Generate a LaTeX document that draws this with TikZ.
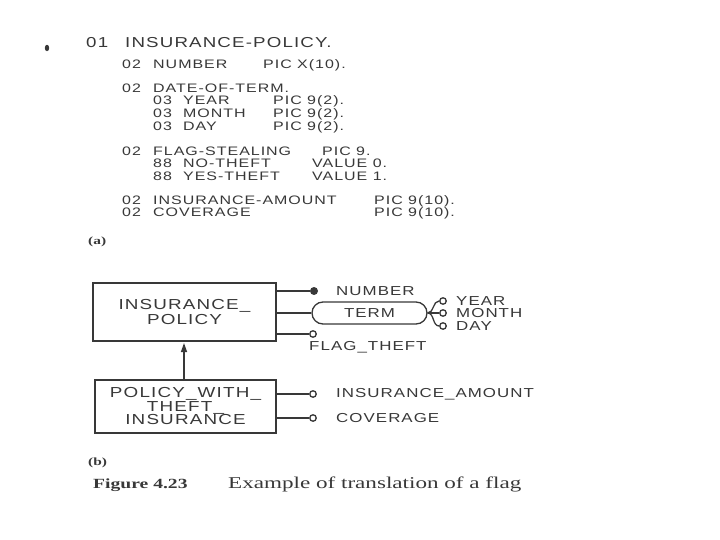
\documentclass[tikz,border=0pt]{standalone}
\usepackage{fontspec}
\setmainfont{Liberation Serif}
\newfontfamily\lsm[FakeStretch=1.3,LetterSpace=8]{Liberation Sans}
\newfontfamily\cserif[FakeStretch=1.4]{Liberation Serif}
\usetikzlibrary{arrows.meta}
\definecolor{ink}{gray}{0.22}
\tikzset{
  lst/.style={anchor=base west,inner sep=0pt,text=ink,font=\lsm\fontsize{12.3}{12}\selectfont},
  ttl/.style={anchor=base west,inner sep=0pt,text=ink,font=\lsm\fontsize{14.4}{16}\selectfont},
  lbl/.style={anchor=west,inner sep=0pt,text=ink,font=\lsm\fontsize{13}{12}\selectfont},
  ent/.style={draw=ink,line width=1.3pt,text=ink,align=center,font=\lsm\fontsize{14.5}{15}\selectfont},
  ln/.style={draw=ink,line width=1.3pt},
  ocirc/.style={circle,draw=ink,line width=1.3pt,fill=white,minimum size=6.5pt,inner sep=0pt},
  fcirc/.style={circle,fill=ink,minimum size=8pt,inner sep=0pt},
  captxt/.style={anchor=base west,inner sep=0pt,text=ink,font=\cserif\bfseries\fontsize{11}{13}\selectfont},
}
\begin{document}
\begin{tikzpicture}[x=1pt,y=-1pt]
\useasboundingbox (0,0) rectangle (720,540);
\fill[ink] (47,48) ellipse (2.2 and 3.2);
% listing (a)
\node[ttl] (t01) at (86,48) {01};
\node[ttl] (t01n) at (125,48) {INSURANCE-POLICY.};
\node[lst] (l1) at (122,69) {02};
\node[lst] (n02a) at (153,69) {NUMBER};
\node[lst] (n02ap) at (263,69) {PIC X(10).};
\node[lst] (l2) at (122,93) {02};
\node[lst] (n02b) at (153,93) {DATE-OF-TERM.};
\node[lst] (l3) at (153,105) {03};
\node[lst] (n03a) at (183,105) {YEAR};
\node[lst] (n03ap) at (273,105) {PIC 9(2).};
\node[lst] (l4) at (153,118) {03};
\node[lst] (n03b) at (183,118) {MONTH};
\node[lst] (n03bp) at (273,118) {PIC 9(2).};
\node[lst] (l5) at (153,131) {03};
\node[lst] (n03c) at (183,131) {DAY};
\node[lst] (n03cp) at (273,131) {PIC 9(2).};
\node[lst] (l6) at (122,156) {02};
\node[lst] (n02c) at (153,156) {FLAG-STEALING};
\node[lst] (n02cp) at (322,156) {PIC 9.};
\node[lst] (l7) at (153,168) {88};
\node[lst] (n88a) at (183,168) {NO-THEFT};
\node[lst] (n88ap) at (312,168) {VALUE 0.};
\node[lst] (l8) at (153,181) {88};
\node[lst] (n88b) at (183,181) {YES-THEFT};
\node[lst] (n88bp) at (312,181) {VALUE 1.};
\node[lst] (l9) at (122,205) {02};
\node[lst] (n02d) at (153,205) {INSURANCE-AMOUNT};
\node[lst] (n02dp) at (374,205) {PIC 9(10).};
\node[lst] (l10) at (122,217) {02};
\node[lst] (n02e) at (153,217) {COVERAGE};
\node[lst] (n02ep) at (374,217) {PIC 9(10).};
\node[captxt] (capa) at (88,244) {(a)};
% diagram (b)
\node[ent,minimum width=183pt,minimum height=58pt] (ip) at (184.5,312) {INSURANCE\_\\POLICY};
\node[ent,minimum width=181pt,minimum height=53pt,font=\lsm\fontsize{14.5}{13.5}\selectfont] (pw) at (185.5,406.5) {POLICY\_WITH\_\\THEFT\_\\INSURANCE};
\draw[ln,-{Triangle[length=9pt,width=6pt]}] (pw.north -| 184,0) -- (184,343);
% NUMBER
\node[fcirc] (dnum) at (314,291) {};
\draw[ln] (276,291) -- (dnum);
\node[lbl] (lnum) at (336,291) {NUMBER};
% TERM
\node[draw=ink,line width=1.3pt,rounded corners=11pt,minimum width=115pt,minimum height=22pt,text=ink,font=\lsm\fontsize{13}{12}\selectfont] (term) at (369.5,313) {TERM};
\draw[ln] (276,313) -- (term.west);
\node[ocirc] (cy) at (443,301) {};
\node[ocirc] (cm) at (443,313) {};
\node[ocirc] (cd) at (443,326) {};
\draw[ln] (term.east) to[out=0,in=180] (cy);
\draw[ln] (term.east) -- (cm);
\draw[ln] (term.east) to[out=0,in=180] (cd);
\node[lbl] (ly) at (456,301) {YEAR};
\node[lbl] (lm) at (456,313) {MONTH};
\node[lbl] (ld) at (456,326) {DAY};
% FLAG
\node[ocirc] (cf) at (313,334) {};
\draw[ln] (276,334) -- (cf);
\node[lbl] (lf) at (309,347) {FLAG\_THEFT};
% subtype attributes
\node[ocirc] (cia) at (313,394) {};
\draw[ln] (pw.east |- 0,394) -- (cia);
\node[lbl] (lia) at (336,394) {INSURANCE\_AMOUNT};
\node[ocirc] (cc) at (313,418) {};
\draw[ln] (pw.east |- 0,418) -- (cc);
\node[lbl] (lc) at (336,418) {COVERAGE};
\node[captxt] (capb) at (88,465) {(b)};
\node[captxt,font=\cserif\bfseries\fontsize{14}{15}\selectfont] (fig) at (93,488) {Figure 4.23};
\node[anchor=base west,inner sep=0pt,text=ink,font=\cserif\fontsize{16.5}{17}\selectfont] (figt) at (228,488) {Example of translation of a flag};
\end{tikzpicture}
\end{document}
